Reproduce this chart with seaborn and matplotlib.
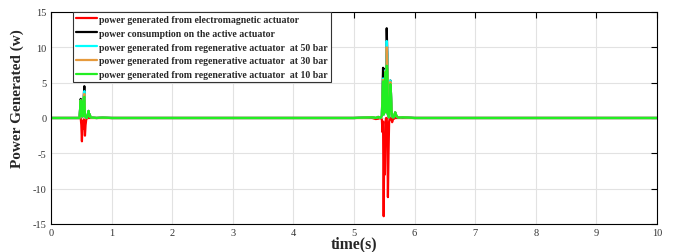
"""
Power generated by the actuators over a 10 s road-input simulation.
Re-drawn with seaborn from the reference figure.
"""

import numpy as np
import pandas as pd
import seaborn as sns
import matplotlib.pyplot as plt

# ─── DATA ────────────────────────────────────────────────────────────────────
time_s = [0.0, 0.40, 0.47, 0.48, 0.49, 0.50, 0.51, 0.52, 0.53, 0.54,
          0.55, 0.56, 0.57, 0.58, 0.59, 0.60, 0.61, 0.62, 0.63, 0.64,
          0.65, 0.68, 0.75, 0.85, 1.00, 5.00, 5.30, 5.36, 5.40, 5.44,
          5.46, 5.47, 5.48, 5.49, 5.50, 5.51, 5.52, 5.53, 5.54, 5.55,
          5.56, 5.57, 5.58, 5.59, 5.60, 5.61, 5.62, 5.63, 5.64, 5.65,
          5.66, 5.68, 5.70, 5.72, 5.75, 5.80, 5.90, 6.00, 10.0]

p_electromagnetic = [0.0, 0.0, 0.0, 0.0, 0.0, -1.0, -3.3, -0.5, -1.5, -0.2,
                     -0.5, -2.5, -1.0, -0.3, 0.0, 0.0, 0.0, 0.0, 0.0, 0.0,
                     0.0, 0.0, 0.0, 0.0, 0.0, 0.0, 0.0, -0.15, -0.1, 0.0,
                     -0.2, -2.0, -0.5, -13.9, -3.0, -8.0, -0.5, 0.0, 0.0, -2.0,
                     -11.2, -5.0, -0.5, 0.0, 0.0, 0.0, -0.3, -0.6, -0.3, -0.1,
                     -0.1, 0.0, 0.0, 0.0, 0.0, 0.0, 0.0, 0.0, 0.0]

p_active = [0.0, 0.0, 0.0, 1.3, 2.7, 0.3, 2.4, 0.2, 0.5, 3.0,
            4.5, 0.4, 0.1, 0.3, 0.0, 0.2, 0.6, 1.0, 0.3, 0.5,
            0.1, 0.05, 0.0, 0.05, 0.0, 0.0, 0.1, 0.0, 0.15, 0.0,
            0.3, 3.5, 7.1, 0.5, 5.0, 1.0, 7.0, 0.8, 12.7, 9.0,
            0.5, 0.2, 0.1, 2.2, 5.3, 3.6, 1.0, 0.3, 0.1, 0.3,
            0.1, 0.8, 0.3, 0.1, 0.05, 0.1, 0.05, 0.0, 0.0]

p_regen_50 = [0.0, 0.0, 0.0, 1.2, 2.5, 0.3, 2.3, 0.2, 0.5, 2.9,
              3.8, 0.4, 0.1, 0.3, 0.0, 0.2, 0.6, 1.0, 0.3, 0.5,
              0.1, 0.05, 0.0, 0.05, 0.0, 0.0, 0.1, 0.0, 0.15, 0.0,
              0.3, 3.0, 5.6, 0.5, 4.9, 1.0, 6.8, 0.8, 10.9, 8.5,
              0.5, 0.2, 0.1, 2.1, 5.3, 3.5, 1.0, 0.3, 0.1, 0.3,
              0.1, 0.8, 0.3, 0.1, 0.05, 0.1, 0.05, 0.0, 0.0]

p_regen_30 = [0.0, 0.0, 0.0, 1.2, 2.5, 0.3, 2.3, 0.2, 0.5, 2.9,
              3.4, 0.4, 0.1, 0.3, 0.0, 0.2, 0.6, 1.0, 0.3, 0.5,
              0.1, 0.05, 0.0, 0.05, 0.0, 0.0, 0.1, 0.0, 0.15, 0.0,
              0.3, 3.0, 5.4, 0.5, 4.8, 1.0, 6.6, 0.8, 10.0, 8.0,
              0.5, 0.2, 0.1, 2.0, 5.1, 3.5, 1.0, 0.3, 0.1, 0.3,
              0.1, 0.8, 0.3, 0.1, 0.05, 0.1, 0.05, 0.0, 0.0]

p_regen_10 = [0.0, 0.0, 0.0, 1.2, 2.5, 0.3, 2.3, 0.2, 0.5, 2.8,
              3.0, 0.4, 0.1, 0.3, 0.0, 0.2, 0.6, 1.0, 0.3, 0.5,
              0.1, 0.05, 0.0, 0.05, 0.0, 0.0, 0.1, 0.0, 0.15, 0.0,
              0.3, 3.0, 5.2, 0.5, 4.8, 1.0, 6.5, 0.8, 7.4, 6.8,
              0.5, 0.2, 0.1, 2.0, 4.8, 3.5, 1.0, 0.3, 0.1, 0.3,
              0.1, 0.8, 0.3, 0.1, 0.05, 0.1, 0.05, 0.0, 0.0]

series_labels = [
    "power generated from electromagnetic actuator",
    "power consumption on the active actuator",
    "power generated from regenerative actuator  at 50 bar",
    "power generated from regenerative actuator  at 30 bar",
    "power generated from regenerative actuator  at 10 bar",
]
series_values = [p_electromagnetic, p_active, p_regen_50, p_regen_30, p_regen_10]
series_colors = ["#ff0000", "#000000", "#00ffff", "#e69a3c", "#22ee22"]

x_ticks = list(range(0, 11))
y_ticks = [-15, -10, -5, 0, 5, 10, 15]

# ─── STYLE ────────────────────────────────────────────────────────────────────
sns.set_style("whitegrid")
plt.rcParams["font.family"] = ["Liberation Serif", "DejaVu Serif"]
plt.rcParams["axes.unicode_minus"] = False

fig = plt.figure(figsize=(6.74, 2.53), dpi=100)
ax = fig.add_axes([0.0757, 0.1107, 0.899, 0.838])

for label, vals, color in zip(series_labels, series_values, series_colors):
    df = pd.DataFrame({"t": time_s, "p": vals})
    sns.lineplot(data=df, x="t", y="p", color=color, label=label,
                 estimator=None, sort=False, linewidth=1.6, ax=ax)

ax.set_xlim(0, 10)
ax.set_ylim(-15, 15)
ax.set_xticks(x_ticks)
ax.set_yticks(y_ticks)
ax.grid(True, color="#e2e2e2", linewidth=0.8)
ax.tick_params(axis="both", direction="in", length=4, width=0.8, labelsize=7.5,
               top=True, right=True, colors="black", labelcolor="#333333", pad=3)
for sp in ax.spines.values():
    sp.set_color("black")
    sp.set_linewidth(0.8)

ax.set_xlabel("time(s)", fontsize=11.3, fontweight="bold", labelpad=-1)
ax.set_ylabel("Power Generated (w)", fontsize=11, fontweight="bold")
# the reference sets the y-label a bit above the axes' middle
ax.yaxis.set_label_coords(-0.045, 0.597)

leg = ax.legend(loc="upper left", bbox_to_anchor=(0.036, 1.0), fancybox=False,
                framealpha=1, edgecolor="#333333", borderpad=0.3,
                labelspacing=0.5, handlelength=2.2, handletextpad=0.2,
                borderaxespad=0.0,
                prop={"family": "Liberation Serif", "weight": "bold", "size": 7})
leg.get_frame().set_linewidth(0.8)

fig.savefig("out.png", dpi=100)
